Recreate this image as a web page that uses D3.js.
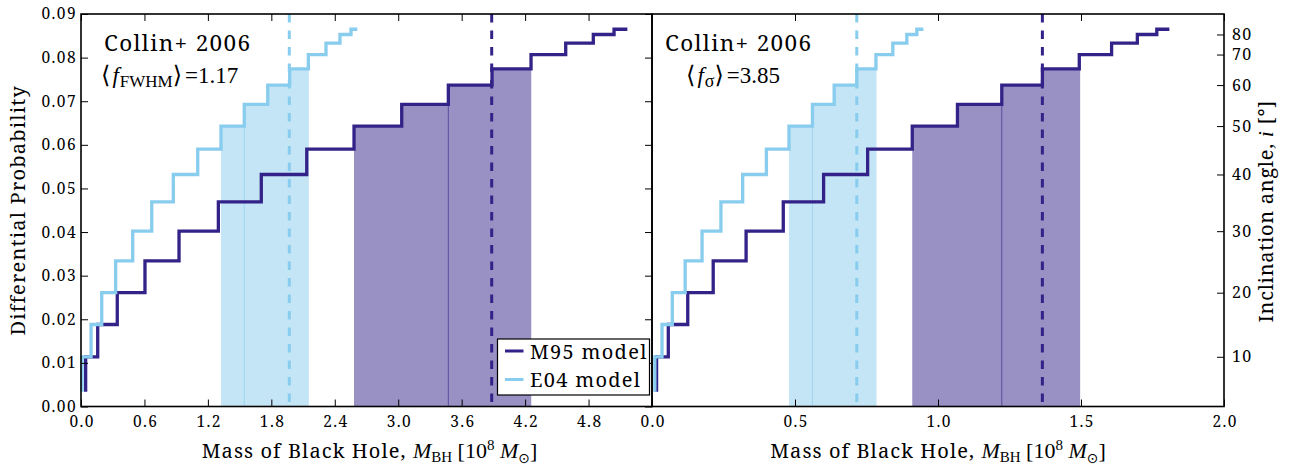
<!DOCTYPE html>
<html>
<head>
<meta charset="utf-8">
<script src="https://cdn.jsdelivr.net/npm/d3@7"></script>
<style>
  body { margin: 0; background: #fff; }
  svg { display: block; }
  text { fill: #000; }
</style>
</head>
<body>
<script>
// inclination grid and the probability level of each step
const inclinations = [5, 10, 15, 20, 25, 30, 35, 40, 45, 50, 55, 60, 65, 70, 75, 80, 85];
const levels = [0.0034, 0.0114, 0.0188, 0.0261, 0.0334, 0.0402, 0.0469, 0.0532, 0.0590,
                0.0643, 0.0693, 0.0737, 0.0774, 0.0807, 0.0833, 0.0853, 0.0865];

// black hole masses (1e8 Msun) at each step, FWHM panel
const massM95Fwhm = [0.044, 0.158, 0.343, 0.605, 0.927, 1.299, 1.705, 2.135, 2.582,
                     3.033, 3.474, 3.887, 4.256, 4.584, 4.845, 5.041, 5.167];
const massE04Fwhm = [0.010, 0.095, 0.196, 0.328, 0.489, 0.669, 0.873, 1.104, 1.324,
                     1.544, 1.766, 1.974, 2.150, 2.317, 2.449, 2.553, 2.613];
// sigma panel
const massM95Sigma = [0.016, 0.057, 0.125, 0.214, 0.329, 0.459, 0.600, 0.754, 0.910,
                      1.068, 1.223, 1.365, 1.494, 1.607, 1.697, 1.765, 1.809];
const massE04Sigma = [0.010, 0.035, 0.071, 0.116, 0.175, 0.241, 0.317, 0.400, 0.479,
                      0.561, 0.637, 0.716, 0.783, 0.842, 0.891, 0.926, 0.949];

// shaded ranges [low, inner line, high] and dashed line value
const bandM95Fwhm = [2.582, 3.474, 4.258], meanM95Fwhm = 3.884;
const bandE04Fwhm = [1.324, 1.544, 2.155], meanE04Fwhm = 1.970;
const bandM95Sigma = [0.910, 1.223, 1.497], meanM95Sigma = 1.365;
const bandE04Sigma = [0.479, 0.561, 0.785], meanE04Sigma = 0.716;

const probTicks = [0, 0.01, 0.02, 0.03, 0.04, 0.05, 0.06, 0.07, 0.08, 0.09];
const xTicksFwhm = [0, 0.6, 1.2, 1.8, 2.4, 3.0, 3.6, 4.2, 4.8];
const xTicksSigma = [0, 0.5, 1.0, 1.5, 2.0];
const seriesNames = ['M95 model', 'E04 model'];

const width = 1292, height = 466;
const dark = '#332288', light = '#88CCEE';
const serif = 'Noto Serif';
const math = 'Liberation Serif';

const svg = d3.select('body').append('svg')
  .attr('width', width)
  .attr('height', height)
  .attr('font-family', serif);

const y = d3.scaleLinear().domain([0, 0.09]).range([406.5, 14]);
const xL = d3.scaleLinear().domain([0, 5.4]).range([81, 652]);
const xR = d3.scaleLinear().domain([0, 2]).range([652, 1224]);

const defs = svg.append('defs');

function levelAt(mass, x) {
  // value of the step curve (steps drawn "before") at x
  for (let i = 0; i < mass.length; i++) if (mass[i] >= x) return levels[i];
  return levels[levels.length - 1];
}

function drawPanel(x, id, series, bands, means) {
  const g = svg.append('g');
  const line = d3.line().x(d => x(d[0])).y(d => y(d[1])).curve(d3.curveStepBefore);
  const area = d3.area().x(d => x(d[0])).y0(y(0)).y1(d => y(d[1])).curve(d3.curveStepBefore);
  const colors = [dark, light];

  // shaded bands under the curves
  series.forEach((mass, s) => {
    const pts = mass.map((m, i) => [m, levels[i]]);
    const band = bands[s];
    defs.append('clipPath').attr('id', `clip-${id}-${s}`)
      .append('rect')
      .attr('x', x(band[0])).attr('width', x(band[2]) - x(band[0]))
      .attr('y', 0).attr('height', height);
    g.append('path')
      .attr('d', area(pts))
      .attr('fill', colors[s]).attr('fill-opacity', 0.5)
      .attr('clip-path', `url(#clip-${id}-${s})`);
    g.append('line')
      .attr('x1', x(band[1])).attr('x2', x(band[1]))
      .attr('y1', y(0)).attr('y2', y(levelAt(mass, band[1])))
      .attr('stroke', colors[s]).attr('stroke-opacity', 0.6).attr('stroke-width', 1);
  });

  // step curves
  series.forEach((mass, s) => {
    const pts = mass.map((m, i) => [m, levels[i]]);
    g.append('path')
      .attr('d', line(pts))
      .attr('fill', 'none')
      .attr('stroke', colors[s])
      .attr('stroke-width', 3.3);
  });

  // dashed markers
  means.forEach((m, s) => {
    g.append('line')
      .attr('x1', x(m)).attr('x2', x(m))
      .attr('y1', y(0.09)).attr('y2', y(0))
      .attr('stroke', colors[s]).attr('stroke-width', 3)
      .attr('stroke-dasharray', '8.5,8');
  });
}

drawPanel(xL, 'fwhm', [massM95Fwhm, massE04Fwhm], [bandM95Fwhm, bandE04Fwhm], [meanM95Fwhm, meanE04Fwhm]);
drawPanel(xR, 'sigma', [massM95Sigma, massE04Sigma], [bandM95Sigma, bandE04Sigma], [meanM95Sigma, meanE04Sigma]);

// axes
function styleAxis(sel, size) {
  sel.select('.domain').remove();
  sel.selectAll('.tick line').attr('stroke', '#000').attr('stroke-width', 1);
  sel.selectAll('text')
    .attr('font-family', serif).attr('font-size', size)
    .attr('letter-spacing', 1.4).attr('fill', '#000');
}

svg.append('g')
  .attr('transform', `translate(${xL(0)},0)`)
  .call(d3.axisLeft(y).tickValues(probTicks).tickFormat(d3.format('.2f')).tickSize(-7).tickPadding(4))
  .call(styleAxis, 15.5);

svg.append('g')
  .attr('transform', `translate(${xL(5.4)},0)`)
  .call(d3.axisRight(y).tickValues(probTicks).tickFormat('').tickSize(-7))
  .call(styleAxis, 15.5);

const inclTicks = inclinations.map((a, i) => [a, levels[i]]).filter(d => d[0] % 10 === 0);
svg.append('g')
  .attr('transform', `translate(${xR(2)},0)`)
  .call(d3.axisRight(y).tickValues(inclTicks.map(d => d[1]))
    .tickFormat((d, i) => inclTicks[i][0]).tickSize(-7).tickPadding(8))
  .call(styleAxis, 16);

[[xL, xTicksFwhm], [xR, xTicksSigma]].forEach(([x, ticks]) => {
  svg.append('g')
    .attr('transform', `translate(0,${y(0)})`)
    .call(d3.axisBottom(x).tickValues(ticks).tickFormat(d3.format('.1f')).tickSize(-7).tickPadding(9))
    .call(styleAxis, 15.5)
    .selectAll('text').attr('dx', 0.7);
  svg.append('g')
    .attr('transform', `translate(0,${y(0.09)})`)
    .call(d3.axisTop(x).tickValues(ticks).tickFormat('').tickSize(-7))
    .call(styleAxis, 15.5);
});

// frames
[[xL, 5.4], [xR, 2]].forEach(([x, max]) => {
  svg.append('rect')
    .attr('x', x(0)).attr('y', y(0.09))
    .attr('width', x(max) - x(0)).attr('height', y(0) - y(0.09))
    .attr('fill', 'none').attr('stroke', '#000').attr('stroke-width', 1.6);
});

// axis labels
function massLabel(cx) {
  const t = svg.append('text')
    .attr('x', cx).attr('y', 458)
    .attr('text-anchor', 'middle')
    .attr('font-size', 20);
  t.append('tspan').attr('letter-spacing', 1.1).text('Mass of Black Hole, ');
  t.append('tspan').attr('font-family', math).attr('font-size', 22).attr('font-style', 'italic').text('M');
  t.append('tspan').attr('font-family', math).attr('font-size', 15).attr('dy', 4).text('BH');
  t.append('tspan').attr('font-family', math).attr('font-size', 22).attr('dy', -4).text(' [10');
  t.append('tspan').attr('font-family', math).attr('font-size', 15).attr('dy', -8).text('8');
  t.append('tspan').attr('font-family', math).attr('font-size', 22).attr('font-style', 'italic').attr('dy', 8).text(' M');
  t.append('tspan').attr('font-family', 'DejaVu Sans').attr('font-size', 14).attr('dy', 5).text('\u2299');
  t.append('tspan').attr('font-family', math).attr('font-size', 22).attr('dy', -5).text(']');
}
massLabel((xL(0) + xL(5.4)) / 2 + 3);
massLabel((xR(0) + xR(2)) / 2);

svg.append('text')
  .attr('transform', `translate(25,${(y(0) + y(0.09)) / 2}) rotate(-90)`)
  .attr('text-anchor', 'middle')
  .attr('font-size', 20).attr('letter-spacing', 1.2)
  .text('Differential Probability');

const rl = svg.append('text')
  .attr('transform', `translate(1273,${(y(0) + y(0.09)) / 2 + 1}) rotate(-90)`)
  .attr('text-anchor', 'middle')
  .attr('font-size', 20).attr('letter-spacing', 0.7);
rl.append('tspan').text('Inclination angle, ');
rl.append('tspan').attr('font-family', math).attr('font-size', 22).attr('font-style', 'italic').text('i');
rl.append('tspan').text(' [\u00b0]');

// annotations
function annotate(x0, x1, sub, value, subSize) {
  svg.append('text')
    .attr('x', x0).attr('y', 51)
    .attr('font-size', 22.5)
    .attr('textLength', 146).attr('lengthAdjust', 'spacing')
    .text('Collin+ 2006');
  const t = svg.append('text')
    .attr('x', x1).attr('y', 83)
    .attr('font-family', math).attr('font-size', 23);
  t.append('tspan').attr('font-family', 'DejaVu Sans').attr('font-size', 24).text('\u27e8');
  t.append('tspan').attr('font-style', 'italic').attr('dx', 2).text('f');
  t.append('tspan').attr('font-size', subSize).attr('dy', 4).attr('dx', 1).text(sub);
  t.append('tspan').attr('font-family', 'DejaVu Sans').attr('font-size', 24).attr('dy', -4).text('\u27e9');
  t.append('tspan').attr('dx', 3).text('=' + value);
}
annotate(104, 101, 'FWHM', '1.17', 17);
annotate(665, 686, '\u03c3', '3.85', 18);

// legend
const lg = svg.append('g').attr('transform', 'translate(497.5,339)');
lg.append('rect')
  .attr('width', 152).attr('height', 56)
  .attr('fill', '#fff').attr('stroke', '#000').attr('stroke-width', 1.2);
seriesNames.forEach((name, i) => {
  const cy = 12 + i * 28.5;
  lg.append('line')
    .attr('x1', 7.5).attr('x2', 26)
    .attr('y1', cy).attr('y2', cy)
    .attr('stroke', i === 0 ? dark : light).attr('stroke-width', 3);
  lg.append('text')
    .attr('x', 32.5).attr('y', cy + 7.5)
    .attr('font-size', 20).attr('letter-spacing', 1.3)
    .text(name);
});
</script>
</body>
</html>
